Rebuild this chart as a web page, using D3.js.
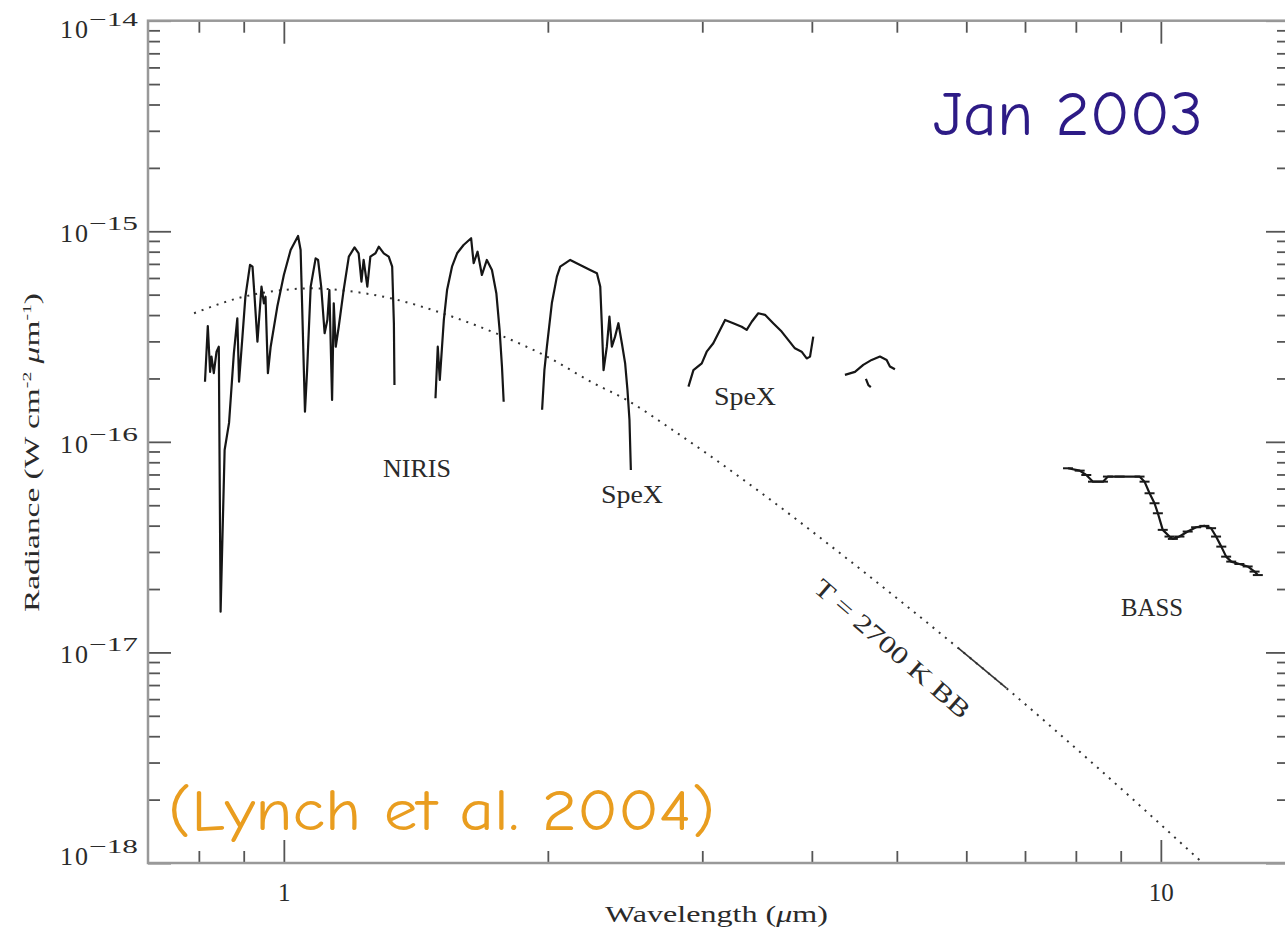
<!DOCTYPE html>
<html>
<head>
<meta charset="utf-8">
<script src="https://cdn.jsdelivr.net/npm/d3@7"></script>
<style>
body { margin: 0; background: #fff; }
text { font-family: "Liberation Serif", "DejaVu Serif", serif; fill: #2a2a2a; }
.note { font-family: "Comic Sans MS", "Comic Neue", Lato, "Noto Sans", sans-serif; }
</style>
</head>
<body>
<svg id="chart" width="1285" height="938"></svg>
<script>
// wavelength in micron, radiance in units of 1e-16 W cm^-2 um^-1
const nirisA_wl  = [0.813,0.819,0.824,0.827,0.832,0.838,0.843,0.847,0.856,0.866,0.877,0.885,0.889,0.897,0.904,0.915,0.921,0.926,0.933,0.943,0.949,0.953,0.959,0.966,0.983,1.000,1.018,1.038,1.045,1.049,1.057,1.063,1.073,1.087,1.094,1.103,1.113,1.121,1.127,1.135,1.140,1.146,1.155,1.170,1.186,1.204,1.217,1.226,1.233,1.245,1.255,1.272,1.283,1.300,1.317,1.329,1.335,1.337];
const nirisA_rad = [1.93,3.55,2.15,2.54,2.12,2.68,2.83,0.156,0.915,1.23,2.63,3.86,1.93,3.16,4.89,6.92,6.79,4.89,2.99,5.46,4.55,4.89,2.12,2.83,4.39,6.20,8.15,9.50,8.15,4.55,1.39,2.19,5.46,7.44,7.31,5.46,3.28,3.79,5.26,1.58,4.55,2.83,3.52,5.26,7.58,8.39,7.86,5.76,7.31,5.46,7.58,7.86,8.45,7.86,7.58,6.79,3.66,1.86];

const nirisB_wl  = [1.489,1.498,1.506,1.522,1.535,1.555,1.576,1.603,1.635,1.646,1.663,1.682,1.704,1.727,1.747,1.762,1.773,1.781];
const nirisB_rad = [1.61,2.83,1.97,3.79,5.26,6.79,7.86,8.61,9.27,7.05,8.00,6.20,7.31,6.55,5.08,3.40,2.28,1.55];

const spexA_wl  = [1.970,1.982,1.995,2.021,2.048,2.066,2.121,2.177,2.235,2.275,2.295,2.305,2.315,2.335,2.351,2.366,2.386,2.407,2.429,2.450,2.465,2.478,2.487];
const spexA_rad = [1.42,2.19,2.83,4.55,6.09,6.79,7.31,6.92,6.55,6.32,5.46,3.52,2.19,2.83,3.93,2.83,3.16,3.66,2.94,2.36,1.76,1.27,0.735];

const spexB_wl  = [2.893,2.931,2.996,3.035,3.088,3.143,3.185,3.254,3.327,3.371,3.416,3.475,3.537,3.614,3.695,3.759,3.826,3.894,3.946,3.981,4.015];
const spexB_rad = [1.83,2.19,2.36,2.68,2.94,3.40,3.79,3.66,3.52,3.40,3.72,4.08,4.01,3.66,3.34,3.05,2.78,2.68,2.49,2.54,3.16];

const spexC_wl  = [4.363,4.479,4.578,4.680,4.783,4.868,4.910,4.975];
const spexC_rad = [2.08,2.15,2.32,2.45,2.54,2.45,2.28,2.21];
const spexD_wl  = [4.61,4.64,4.67];
const spexD_rad = [1.99,1.86,1.82];

const bass_wl  = [7.837,8.081,8.222,8.368,8.590,8.703,8.974,9.456,9.581,9.708,9.835,9.922,10.05,10.23,10.32,10.50,10.73,10.97,11.21,11.41,11.56,11.72,11.87,12.03,12.29,12.56,12.79,12.90];
const bass_rad = [0.749,0.730,0.696,0.647,0.647,0.684,0.684,0.684,0.647,0.570,0.511,0.458,0.382,0.355,0.346,0.355,0.375,0.393,0.399,0.389,0.355,0.318,0.285,0.270,0.263,0.256,0.242,0.233];

// 2700 K blackbody
const bb_wl  = [0.790,0.900,1.000,1.073,1.181,1.323,1.535,1.781,1.995,2.255,2.461,2.757,3.491,4.268,5.872,6.668,8.444,11.12];
const bb_rad = [4.08,4.89,5.26,5.36,5.21,4.81,4.01,3.16,2.54,1.90,1.58,1.16,0.578,0.305,0.105,0.0676,0.0287,0.01015];
const bbSolid_wl  = [5.872,6.668];
const bbSolid_rad = [0.105,0.0676];

const xMajor = [1, 10];
const yMajor = [1e-14, 1e-15, 1e-16, 1e-17, 1e-18];
const yExp   = [-14, -15, -16, -17, -18];
const UNIT = 1e-16;

const W = 1285, H = 938;
const L = 148, R = 1289, T = 20.7, B = 863;

const svg = d3.select('#chart');
const x = d3.scaleLog().domain([0.7, 14]).range([L, R]);
const y = d3.scaleLog().domain([1e-18, 1e-14]).range([B, T]);

const isMajor = v => Math.abs(Math.log10(v) - Math.round(Math.log10(v))) < 1e-6;
const xTicks = x.ticks().filter(v => v > 0.7 + 1e-9 && v < 14);
const yTicks = y.ticks().filter(v => v > 1e-18 * 1.0001 && v < 1e-14 * 0.9999);
const xMinor = xTicks.filter(v => !isMajor(v));
const yMinor = yTicks.filter(v => !isMajor(v));

function axisGroup(axis, tr) {
  const g = svg.append('g').attr('transform', tr).call(axis);
  g.select('.domain').remove();
  g.selectAll('.tick line').attr('stroke', '#555').attr('stroke-width', 1.8);
  return g;
}

// minor ticks (inward on all four sides)
axisGroup(d3.axisBottom(x).tickValues(xMinor).tickSize(-12).tickFormat(''), `translate(0,${B})`);
axisGroup(d3.axisTop(x).tickValues(xMinor).tickSize(-12).tickFormat(''), `translate(0,${T})`);
axisGroup(d3.axisLeft(y).tickValues(yMinor).tickSize(-12).tickFormat(''), `translate(${L},0)`);
axisGroup(d3.axisRight(y).tickValues(yMinor).tickSize(-12).tickFormat(''), `translate(${R},0)`);

// major ticks
const xb = axisGroup(d3.axisBottom(x).tickValues(xMajor).tickSize(-23).tickPadding(20).tickFormat(d3.format('d')), `translate(0,${B})`);
xb.selectAll('.tick text').attr('font-size', 25).attr('fill', '#2a2a2a')
  .attr('font-family', '"Liberation Serif", serif');
axisGroup(d3.axisTop(x).tickValues(xMajor).tickSize(-23).tickFormat(''), `translate(0,${T})`);
axisGroup(d3.axisLeft(y).tickValues(yMajor).tickSize(-23).tickFormat(''), `translate(${L},0)`);
axisGroup(d3.axisRight(y).tickValues(yMajor).tickSize(-23).tickFormat(''), `translate(${R},0)`);

// frame
svg.append('rect').attr('x', L).attr('y', T).attr('width', R - L).attr('height', B - T)
  .attr('fill', 'none').attr('stroke', '#999').attr('stroke-width', 2.5);

// y tick labels 10^n
yMajor.forEach((v, i) => {
  const base = Math.max(T + 17, Math.min(B + 2, y(v) + 11));
  svg.append('text').attr('x', 88).attr('y', base).attr('text-anchor', 'end')
    .attr('font-size', 26).attr('textLength', 28).text('10');
  svg.append('text').attr('x', 89).attr('y', base - 12)
    .attr('font-size', 19).attr('textLength', 49).attr('lengthAdjust', 'spacingAndGlyphs')
    .text('\u2212' + Math.abs(yExp[i]));
});

// axis titles
svg.append('text').attr('x', 605).attr('y', 922).attr('font-size', 24)
  .attr('textLength', 223).attr('lengthAdjust', 'spacingAndGlyphs')
  .call(t => {
    t.append('tspan').text('Wavelength (');
    t.append('tspan').attr('font-style', 'italic').text('\u03bc');
    t.append('tspan').text('m)');
  });

svg.append('text').attr('transform', 'translate(39,612) rotate(-90)').attr('font-size', 22)
  .attr('textLength', 319).attr('lengthAdjust', 'spacingAndGlyphs')
  .call(t => {
    t.append('tspan').text('Radiance (W cm');
    t.append('tspan').attr('dy', -8).attr('font-size', 13).text('-2');
    t.append('tspan').attr('dy', 8).text(' ');
    t.append('tspan').attr('font-style', 'italic').text('\u03bc');
    t.append('tspan').text('m');
    t.append('tspan').attr('dy', -8).attr('font-size', 13).text('-1');
    t.append('tspan').attr('dy', 8).text(')');
  });

const line = d3.line().x(d => x(d[0])).y(d => y(d[1] * UNIT));
const zip = (a, b) => a.map((v, i) => [v, b[i]]);

// blackbody curve
svg.append('path').datum(zip(bb_wl, bb_rad))
  .attr('d', line.curve(d3.curveMonotoneX)).attr('fill', 'none')
  .attr('stroke', '#333').attr('stroke-width', 2).attr('stroke-dasharray', '2,6');
line.curve(d3.curveLinear);
svg.append('path').datum(zip(bbSolid_wl, bbSolid_rad)).attr('d', line)
  .attr('fill', 'none').attr('stroke', '#333').attr('stroke-width', 1.6);

// spectra
const segments = [
  zip(nirisA_wl, nirisA_rad), zip(nirisB_wl, nirisB_rad),
  zip(spexA_wl, spexA_rad), zip(spexB_wl, spexB_rad),
  zip(spexC_wl, spexC_rad), zip(spexD_wl, spexD_rad),
  zip(bass_wl, bass_rad)
];
svg.selectAll('path.spec').data(segments).enter().append('path')
  .attr('class', 'spec').attr('d', line).attr('fill', 'none')
  .attr('stroke', '#161616').attr('stroke-width', 2.2).attr('stroke-linejoin', 'round');

// BASS error ticks
svg.selectAll('line.err').data(zip(bass_wl, bass_rad)).enter().append('line')
  .attr('class', 'err')
  .attr('x1', d => x(d[0]) - 5).attr('x2', d => x(d[0]) + 5)
  .attr('y1', d => y(d[1] * UNIT)).attr('y2', d => y(d[1] * UNIT))
  .attr('stroke', '#1a1a1a').attr('stroke-width', 2);

// instrument labels
const labels = [
  { t: 'NIRIS', x: 417, y: 477, w: 68 },
  { t: 'SpeX', x: 632, y: 503, w: 62 },
  { t: 'SpeX', x: 745, y: 405, w: 62 },
  { t: 'BASS', x: 1152, y: 616, w: 62 }
];
svg.selectAll('text.lab').data(labels).enter().append('text')
  .attr('class', 'lab').attr('x', d => d.x - d.w / 2).attr('y', d => d.y)
  .attr('font-size', 25).attr('textLength', d => d.w).attr('lengthAdjust', 'spacingAndGlyphs')
  .text(d => d.t);

svg.append('text').attr('transform', 'translate(812,590) rotate(41)').attr('font-size', 25)
  .attr('textLength', 198).attr('lengthAdjust', 'spacingAndGlyphs')
  .text('T = 2700 K BB');

// slide annotations
svg.append('text').attr('class', 'note').attr('x', 933).attr('y', 135)
  .attr('font-size', 62).attr('textLength', 270).attr('lengthAdjust', 'spacingAndGlyphs')
  .style('fill', '#2d1b86').text('Jan 2003');
svg.append('text').attr('class', 'note').attr('x', 168).attr('y', 830)
  .attr('font-size', 58).attr('textLength', 547).attr('lengthAdjust', 'spacingAndGlyphs')
  .style('fill', '#e99d1f').text('(Lynch et al. 2004)');
</script>
</body>
</html>
